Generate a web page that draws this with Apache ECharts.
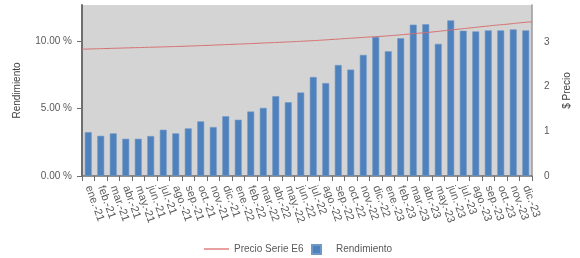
<!DOCTYPE html>
<html><head><meta charset="utf-8">
<script src="https://cdn.jsdelivr.net/npm/echarts@6/dist/echarts.min.js"></script>
<style>html,body{margin:0;padding:0;background:#fff}#c{width:580px;height:258px}</style>
</head><body><div id="c"></div>
<script>
const categories = ['ene.-21','feb.-21','mar.-21','abr.-21','may.-21','jun.-21','jul.-21','ago.-21','sep.-21','oct.-21','nov.-21','dic.-21',
  'ene.-22','feb.-22','mar.-22','abr.-22','may.-22','jun.-22','jul.-22','ago.-22','sep.-22','oct.-22','nov.-22','dic.-22',
  'ene.-23','feb.-23','mar.-23','abr.-23','may.-23','jun.-23','jul.-23','ago.-23','sep.-23','oct.-23','nov.-23','dic.-23'];
const rendimiento = [3.25,2.98,3.16,2.76,2.76,2.96,3.43,3.16,3.53,4.05,3.63,4.43,
  4.17,4.78,5.05,5.92,5.47,6.19,7.34,6.89,8.23,7.89,8.98,10.32,
  9.25,10.22,11.22,11.25,9.80,11.54,10.77,10.72,10.80,10.80,10.87,10.80];
const precioPoints = ['p0','p1','p2','p3','p4','p5','p6','p7','p8','p9','p10','p11','p12','p13','p14','p15','p16','p17','p18',
  'p19','p20','p21','p22','p23','p24','p25','p26','p27','p28','p29','p30','p31','p32','p33','p34','p35','p36'];
const precio = [2.84,2.848,2.856,2.864,2.872,2.88,2.888,2.896,2.905,2.915,2.925,2.937,2.948,2.96,2.972,2.985,2.997,3.01,3.024,
  3.04,3.058,3.077,3.095,3.113,3.13,3.15,3.175,3.20,3.225,3.255,3.285,3.315,3.345,3.375,3.40,3.43,3.455];
const leftTicks = [0,5,10];
const rightTicks = [0,1,2,3];

const FONT = 'Liberation Sans';
const TXT = '#595959';
const chart = echarts.init(document.getElementById('c'), null, {renderer:'canvas'});
chart.setOption({
  animation:false,
  textStyle:{fontFamily:FONT},
  grid:{left:82,right:37,top:5,bottom:82,show:true,backgroundColor:'#d4d4d4',borderWidth:0},
  legend:[
    {data:['Precio Serie E6'],left:199,top:239,itemWidth:25,itemHeight:2,icon:'rect',itemGap:6,
     textStyle:{color:TXT,fontSize:10,fontFamily:FONT}},
    {data:['Rendimiento'],left:306,top:239,itemWidth:9,itemHeight:9,icon:'rect',itemGap:6,
     textStyle:{color:TXT,fontSize:10,fontFamily:FONT,padding:[0,0,0,10]}}
  ],
  xAxis:[
    {type:'category',data:categories,boundaryGap:true,
     axisLine:{lineStyle:{color:'#6e6e6e',width:1.5}},
     axisTick:{show:true,length:5,lineStyle:{color:'#6e6e6e'}},
     axisLabel:{rotate:-70,interval:0,margin:10,color:TXT,fontSize:11,fontFamily:FONT},
     splitLine:{show:false}},
    {type:'category',data:precioPoints,boundaryGap:false,show:false}
  ],
  yAxis:[
    {type:'value',min:0,max:12.68,interval:5,position:'left',
     name:'Rendimiento',nameLocation:'middle',nameRotate:90,nameGap:60,
     nameTextStyle:{color:'#404040',fontSize:10,fontFamily:FONT},
     axisLine:{show:true,lineStyle:{color:'#6e6e6e',width:2}},
     axisTick:{show:true,length:5,lineStyle:{color:'#6e6e6e'}},
     axisLabel:{color:TXT,fontSize:10,fontFamily:FONT,margin:10,showMaxLabel:false,
       formatter:v=>leftTicks.includes(v)?v.toFixed(2)+' %':''},
     splitLine:{show:false}},
    {type:'value',min:0,max:3.83,interval:1,position:'right',
     name:'$ Precio',nameLocation:'middle',nameRotate:90,nameGap:30,
     nameTextStyle:{color:'#404040',fontSize:10,fontFamily:FONT},
     axisLine:{show:true,lineStyle:{color:'#9a9a9a',width:1.5}},
     axisTick:{show:false},
     axisLabel:{color:TXT,fontSize:10,fontFamily:FONT,margin:12,showMaxLabel:false,
       formatter:v=>rightTicks.includes(v)?String(v):''},
     splitLine:{show:false}}
  ],
  series:[
    {name:'Precio Serie E6',type:'line',xAxisIndex:1,yAxisIndex:1,data:precio,
     showSymbol:false,symbol:'none',smooth:true,
     lineStyle:{color:'#d77070',width:1},itemStyle:{color:'#e8a0a0'},z:5},
    {name:'Rendimiento',type:'bar',xAxisIndex:0,yAxisIndex:0,data:rendimiento,
     barWidth:'55%',itemStyle:{color:'#4f81bd',borderColor:'#6f97c8',borderWidth:0.6},z:3}
  ]
});
</script></body></html>
